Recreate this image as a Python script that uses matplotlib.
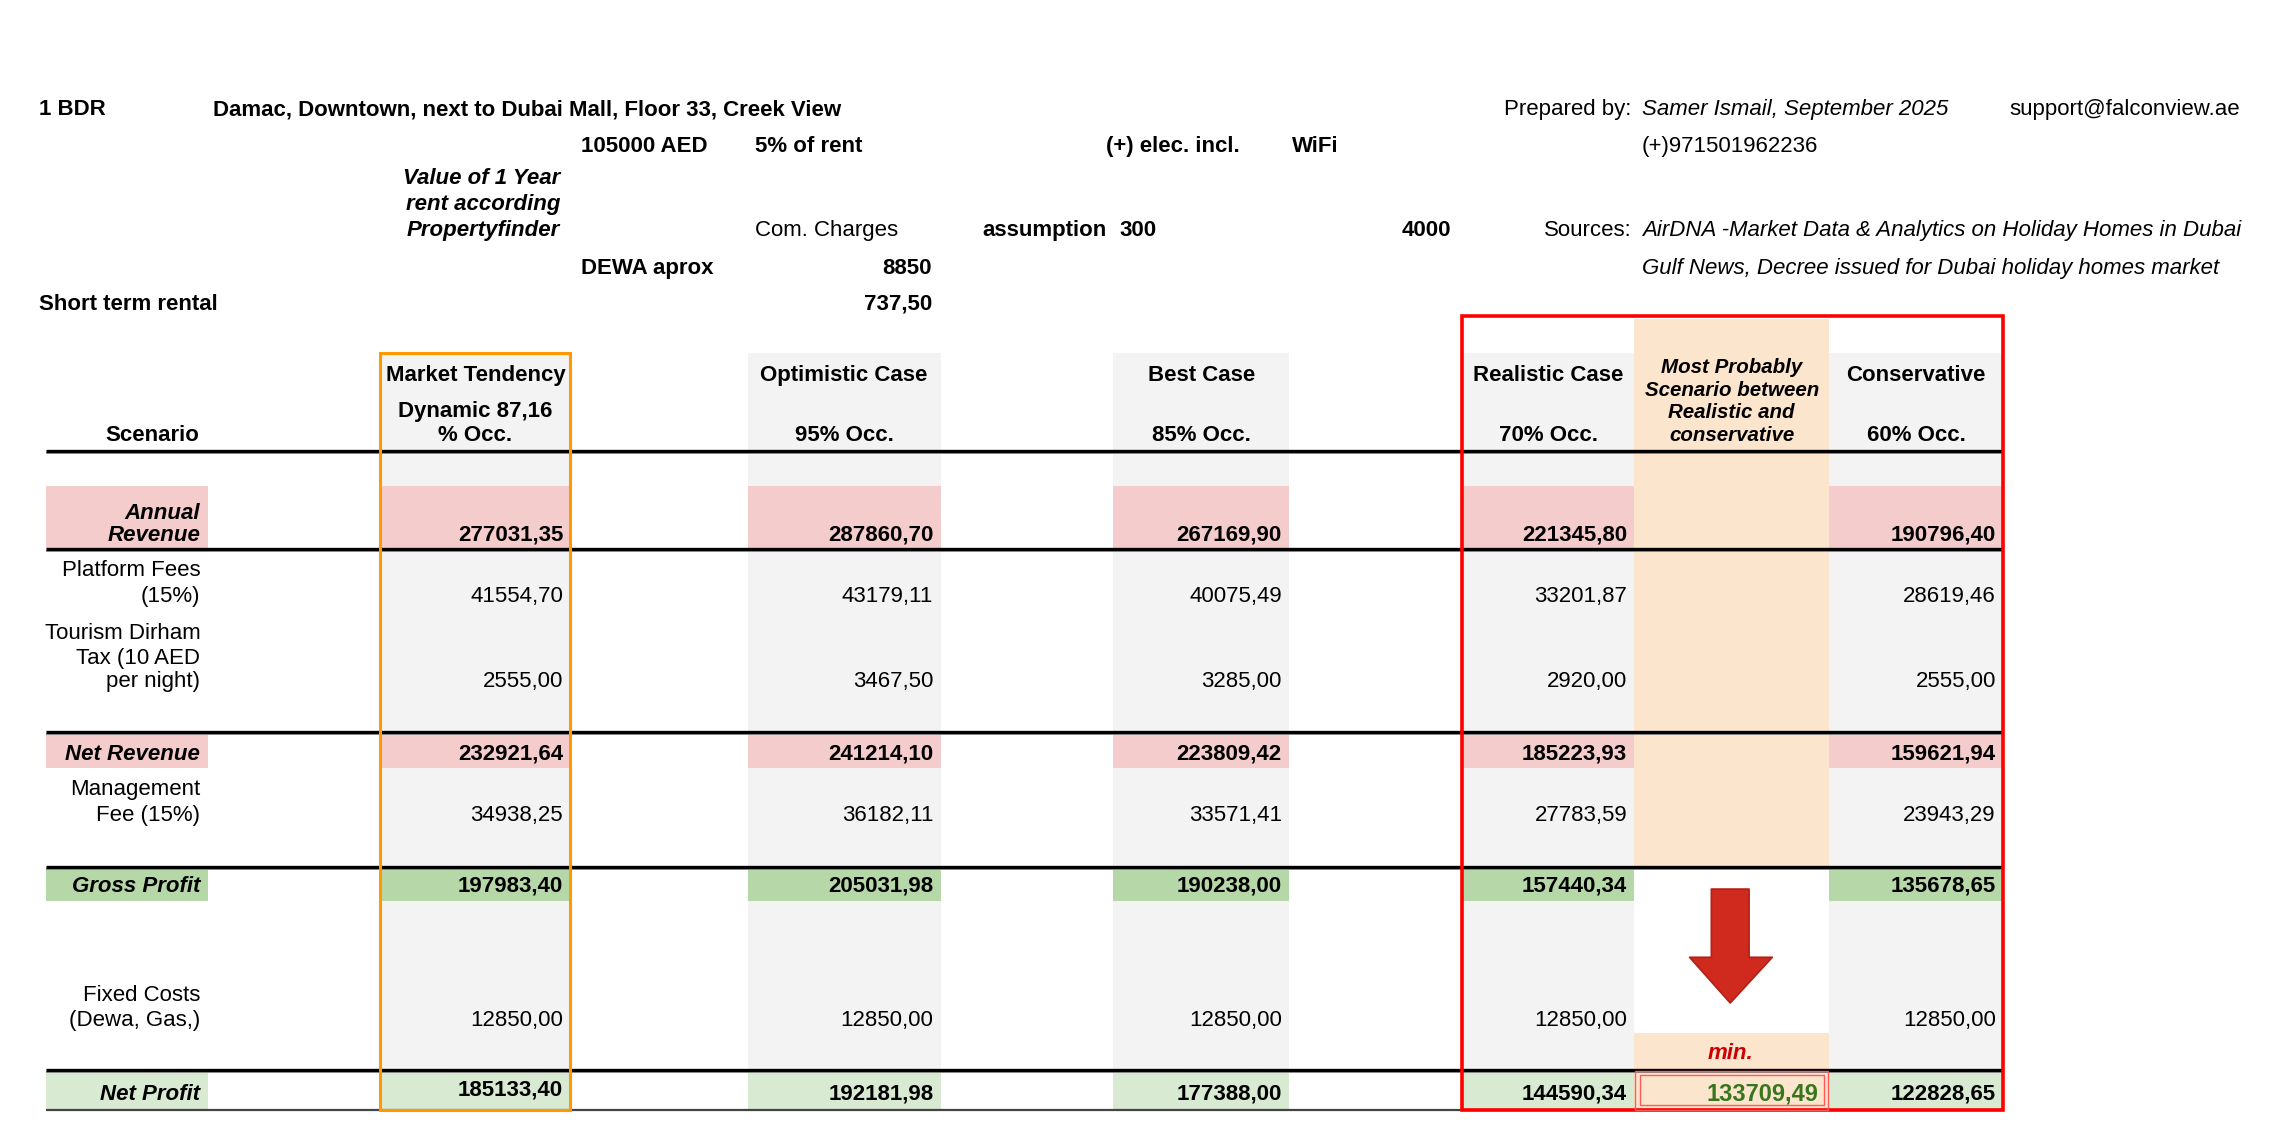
import matplotlib
matplotlib.use("Agg")
import matplotlib.pyplot as plt
from matplotlib.patches import Rectangle, Polygon

plt.rcParams['font.family'] = ['Liberation Sans', 'DejaVu Sans']

# ---------------- data ----------------
scenario_names = ["Market Tendency", "Optimistic Case", "Best Case", "Realistic Case",
                  "Most Probably\nScenario between\nRealistic and\nconservative", "Conservative"]
occupancy_labels = ["Dynamic 87,16\n% Occ.", "95% Occ.", "85% Occ.", "70% Occ.", "", "60% Occ."]

row_labels = ["Annual\nRevenue", "Platform Fees\n(15%)", "Tourism Dirham\nTax (10 AED\nper night)",
              "Net Revenue", "Management\nFee (15%)", "Gross Profit", "Fixed Costs\n(Dewa, Gas,)", "Net Profit"]

annual_revenue = [277031.35, 287860.70, 267169.90, 221345.80, None, 190796.40]
platform_fees = [41554.70, 43179.11, 40075.49, 33201.87, None, 28619.46]
tourism_tax = [2555.00, 3467.50, 3285.00, 2920.00, None, 2555.00]
net_revenue = [232921.64, 241214.10, 223809.42, 185223.93, None, 159621.94]
management_fee = [34938.25, 36182.11, 33571.41, 27783.59, None, 23943.29]
gross_profit = [197983.40, 205031.98, 190238.00, 157440.34, None, 135678.65]
fixed_costs = [12850.00, 12850.00, 12850.00, 12850.00, None, 12850.00]
net_profit = [185133.40, 192181.98, 177388.00, 144590.34, 133709.49, 122828.65]

# ---------------- figure ----------------
W, H = 1568, 784
fig = plt.figure(figsize=(22.76, 11.38), dpi=100)
ax = fig.add_axes([0, 0, 1, 1])
ax.set_xlim(0, W)
ax.set_ylim(H, 0)
ax.axis('off')

FS = 16
GRAY = '#f3f3f3'
PINK = '#f4cccc'
GREEN = '#b6d7a8'
LGREEN = '#d9ead3'
PEACH = '#fce5cd'


def fmt(v):
    return f"{v:.2f}".replace('.', ',')


def T(x, y, s, ha='left', weight='normal', style='normal', size=FS, color='black'):
    ax.text(x, y, s, ha=ha, va='center_baseline', fontsize=size, fontweight=weight,
            fontstyle=style, color=color, zorder=10)


def rect(x0, y0, x1, y1, color, z=1):
    ax.add_patch(Rectangle((x0, y0), x1 - x0, y1 - y0, facecolor=color, edgecolor='none', zorder=z))


# ---------------- header block ----------------
T(27, 74, "1 BDR", weight='bold')
T(147, 74, "Damac, Downtown, next to Dubai Mall, Floor 33, Creek View", weight='bold')
T(1124, 74, "Prepared by:", ha='right')
T(1131, 74, "Samer Ismail, September 2025", style='italic')
T(1384, 74, "support@falconview.ae")

T(400, 99, "105000 AED", weight='bold')
T(520, 99, "5% of rent", weight='bold')
T(762, 99, "(+) elec. incl.", weight='bold')
T(890, 99, "WiFi", weight='bold')
T(1131, 99, "(+)971501962236")

for yy, s in zip([121, 139, 157], ["Value of 1 Year", "rent according", "Propertyfinder"]):
    T(386, yy, s, ha='right', weight='bold', style='italic')
T(520, 157, "Com. Charges")
T(677, 157, "assumption", weight='bold')
T(771, 157, "300", weight='bold')
T(1000, 157, "4000", ha='right', weight='bold')
T(1124, 157, "Sources:", ha='right')
T(1131, 157, "AirDNA -Market Data & Analytics on Holiday Homes in Dubai", style='italic')

T(400, 183, "DEWA aprox", weight='bold')
T(642, 183, "8850", ha='right', weight='bold')
T(1131, 183, "Gulf News, Decree issued for Dubai holiday homes market", style='italic')

T(27, 208, "Short term rental", weight='bold')
T(642, 208, "737,50", ha='right', weight='bold')

# ---------------- table geometry ----------------
col_left = [262, 515, 767, 1007, 1126, 1260]
col_right = [393, 648, 888, 1126, 1260, 1380]
LAB_L, LAB_R = 32, 143

annual_band = (335, 378)
netrev_band = (504, 529)
gross_band = (597, 621)
netprofit_band = (737, 765)

# gray column backgrounds
for i in [0, 1, 2, 3, 5]:
    rect(col_left[i], 243, col_right[i], 737, GRAY)
    rect(col_left[i], annual_band[0], col_right[i], annual_band[1], PINK, 2)
    rect(col_left[i], netrev_band[0], col_right[i], netrev_band[1], PINK, 2)
    rect(col_left[i], gross_band[0], col_right[i], gross_band[1], GREEN, 2)
    rect(col_left[i], netprofit_band[0], col_right[i], netprofit_band[1], LGREEN, 2)

# most probable column
rect(col_left[4], 220, col_right[4], 597, PEACH)
rect(col_left[4], 712, col_right[4], 737, PEACH)
rect(col_left[4], 737, col_right[4], 765, PEACH)

# label column fills
rect(LAB_L, annual_band[0], LAB_R, annual_band[1], PINK, 2)
rect(LAB_L, netrev_band[0], LAB_R, netrev_band[1], PINK, 2)
rect(LAB_L, gross_band[0], LAB_R, gross_band[1], GREEN, 2)
rect(LAB_L, netprofit_band[0], LAB_R, netprofit_band[1], LGREEN, 2)

# horizontal rules
for yy in [311, 378, 504, 597, 737]:
    ax.plot([LAB_L, 1380], [yy + 1.4, yy + 1.4], color='#9a9a9a', lw=1.3, zorder=5, solid_capstyle='butt')
    ax.plot([LAB_L, 1380], [yy, yy], color='black', lw=2.4, zorder=6, solid_capstyle='butt')
ax.plot([LAB_L, 1380], [765, 765], color='#444444', lw=1.6, zorder=5, solid_capstyle='butt')

# highlight boxes
ax.add_patch(Rectangle((262, 243), 393 - 262, 765 - 243, facecolor='none',
                       edgecolor='#ff9900', lw=2.2, zorder=8))
ax.add_patch(Rectangle((1007, 218), 1380 - 1007, 765 - 218, facecolor='none',
                       edgecolor='#ff0000', lw=2.6, zorder=8))
ax.add_patch(Rectangle((1126.5, 737.5), 133, 27, facecolor='none', edgecolor='#ff5a5a', lw=1.0, zorder=9))
ax.add_patch(Rectangle((1129.5, 740.5), 127, 21, facecolor='none', edgecolor='#ff5a5a', lw=1.0, zorder=9))

# arrow
arrow = Polygon([(1179, 612.5), (1205, 612.5), (1205, 659.5), (1221, 659.5), (1192, 691),
                 (1164, 659.5), (1179, 659.5)], closed=True, facecolor='#cf2a1d',
                edgecolor='#b42015', lw=1.2, joinstyle='round', zorder=7)
ax.add_patch(arrow)
T(1192, 724, "min.", ha='center', weight='bold', style='italic', color='#cc0000')

# ---------------- header labels ----------------
T(105, 298, "Scenario", ha='center', weight='bold')
for i in range(6):
    cx = (col_left[i] + col_right[i]) / 2
    if i == 4:
        for k, s in enumerate(scenario_names[i].split("\n")):
            T(cx, 252 + k * 15.5, s, ha='center', weight='bold', style='italic', size=14.8)
        continue
    T(cx, 257, scenario_names[i], ha='center', weight='bold')
    occ = occupancy_labels[i].split("\n")
    if len(occ) == 2:
        T(cx, 282, occ[0], ha='center', weight='bold')
        T(cx, 298, occ[1], ha='center', weight='bold')
    else:
        T(cx, 298, occ[0], ha='center', weight='bold')

# ---------------- row labels ----------------
LX = 138
T(LX, 352, "Annual", ha='right', weight='bold', style='italic')
T(LX, 367, "Revenue", ha='right', weight='bold', style='italic')
T(LX, 391, "Platform Fees", ha='right')
T(LX, 409, "(15%)", ha='right')
T(LX, 435, "Tourism Dirham", ha='right')
T(LX, 452, "Tax (10 AED", ha='right')
T(LX, 468, "per night)", ha='right')
T(LX, 518, "Net Revenue", ha='right', weight='bold', style='italic')
T(LX, 542, "Management", ha='right')
T(LX, 560, "Fee (15%)", ha='right')
T(LX, 609, "Gross Profit", ha='right', weight='bold', style='italic')
T(LX, 684, "Fixed Costs", ha='right')
T(LX, 701, "(Dewa, Gas,)", ha='right')
T(LX, 752, "Net Profit", ha='right', weight='bold', style='italic')

# ---------------- values ----------------
rows = [
    (annual_revenue, 367, 'bold'),
    (platform_fees, 409, 'normal'),
    (tourism_tax, 468, 'normal'),
    (net_revenue, 518, 'bold'),
    (management_fee, 560, 'normal'),
    (gross_profit, 609, 'bold'),
    (fixed_costs, 701, 'normal'),
    (net_profit, 752, 'bold'),
]
for vals, yy, wt in rows:
    for i, v in enumerate(vals):
        if v is None:
            continue
        if i == 4:
            T(col_right[i] - 7, yy, fmt(v), ha='right', weight='bold', color='#38761d', size=17)
        elif vals is net_profit and i == 0:
            T(col_right[i] - 5, yy - 3, fmt(v), ha='right', weight=wt)
        else:
            T(col_right[i] - 5, yy, fmt(v), ha='right', weight=wt)

fig.savefig("out.png", dpi=100)
